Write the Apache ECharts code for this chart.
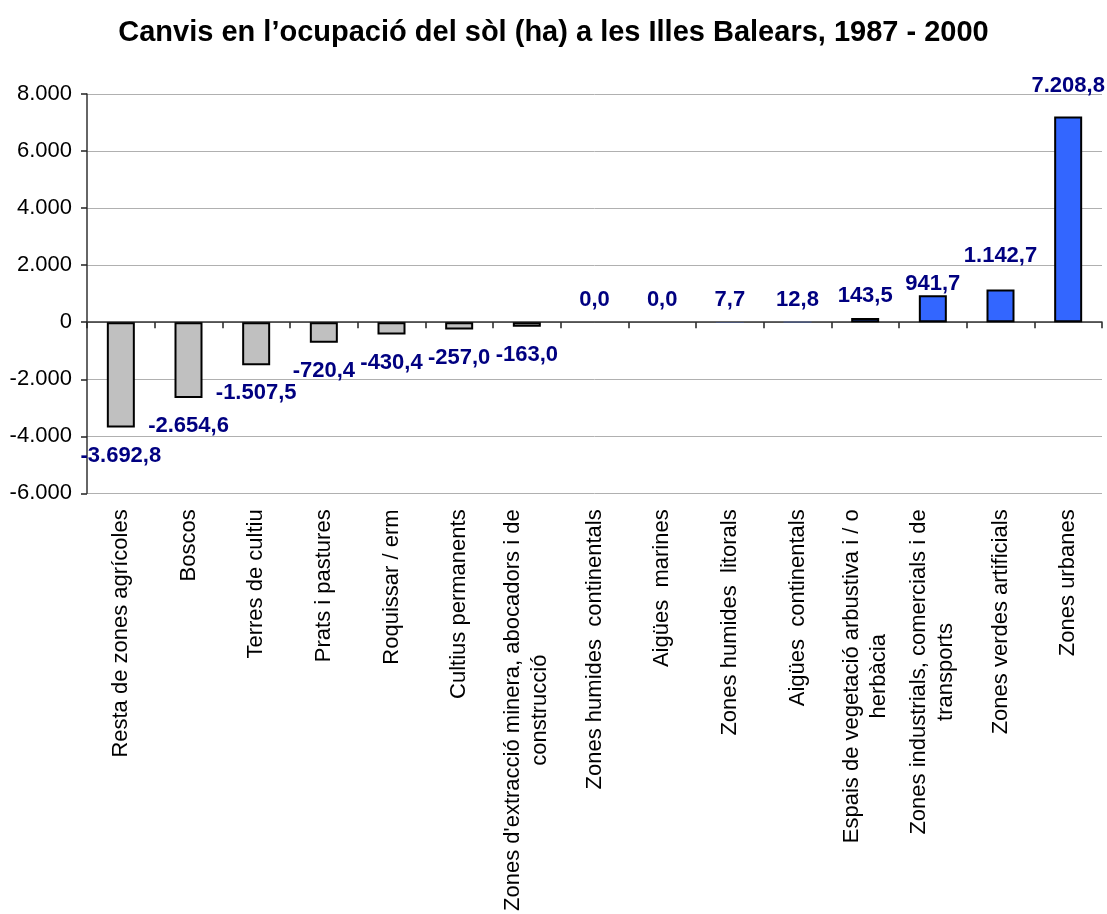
<!DOCTYPE html>
<html>
<head>
<meta charset="utf-8">
<script src="https://cdn.jsdelivr.net/npm/echarts@6/dist/echarts.min.js"></script>
<style>
  html, body { margin: 0; padding: 0; background: #fff; }
  #chart { width: 1107px; height: 914px; }
</style>
</head>
<body>
<div id="chart"></div>
<script>
// dades: canvis en l'ocupació del sòl (ha), 1987 - 2000
const categories = [
  'Resta de zones agrícoles',
  'Boscos',
  'Terres de cultiu',
  'Prats i pastures',
  'Roquissar / erm',
  'Cultius permanents',
  "Zones d'extracció minera, abocadors i de\nconstrucció",
  'Zones humides  continentals',
  'Aigües  marines',
  'Zones humides  litorals',
  'Aigües  continentals',
  'Espais de vegetació arbustiva i / o\nherbàcia',
  'Zones industrials, comercials i de\ntransports',
  'Zones verdes artificials',
  'Zones urbanes'
];
const values = [-3692.8, -2654.6, -1507.5, -720.4, -430.4, -257.0, -163.0,
  0.0, 0.0, 7.7, 12.8, 143.5, 941.7, 1142.7, 7208.8];
const yTicks = [-6000, -4000, -2000, 0, 2000, 4000, 6000, 8000];

const FONT = '"Liberation Sans", Arial, sans-serif';

// format català: punt de milers, coma decimal
function fmt(v, dec) {
  const s = Math.abs(v).toFixed(dec);
  const parts = s.split('.');
  const int = parts[0].replace(/\B(?=(\d{3})+(?!\d))/g, '.');
  return (v < 0 ? '-' : '') + int + (parts[1] ? ',' + parts[1] : '');
}

// alguns rètols moguts a mà a l'original
const labelGap = { 12: 0, 13: 23, 14: 20 };

const barData = values.map((v, i) => ({
  value: v,
  itemStyle: {
    color: v < 0 ? '#C0C0C0' : '#3366FF',
    // barres gairebé nul·les: sense vora visible
    borderWidth: Math.abs(v) < 20 ? 0 : 2
  },
  label: {
    position: v < 0 ? 'bottom' : 'top',
    distance: labelGap[i] != null ? labelGap[i] : (v < 0 ? 17 : 11)
  }
}));

const chart = echarts.init(document.getElementById('chart'));
chart.setOption({
  animation: false,
  title: {
    text: 'Canvis en l’ocupació del sòl (ha) a les Illes Balears, 1987 - 2000',
    left: 'center',
    top: 13,
    textStyle: { fontFamily: FONT, fontSize: 29, fontWeight: 'bold', color: '#000' }
  },
  grid: { left: 87, right: 5, top: 94, bottom: 416 },
  xAxis: [
    {
      type: 'category',
      data: categories,
      position: 'bottom',
      axisLine: { onZero: true, lineStyle: { color: '#333', width: 1.5 } },
      axisTick: { show: true, interval: 0, length: 6, lineStyle: { color: '#222', width: 1.5 } },
      axisLabel: { show: false, interval: 0 },
      splitLine: { show: false }
    },
    {
      type: 'category',
      data: categories,
      position: 'bottom',
      axisLine: { show: false, onZero: false },
      axisTick: { show: false },
      axisLabel: {
        show: true,
        interval: 0,
        rotate: 90,
        margin: 16,
        formatter: v => v.split('\n').map(s => '{c|' + s + '}').join('\n'),
        rich: {
          c: { align: 'center', fontFamily: FONT, fontSize: 22, color: '#000', lineHeight: 27 }
        }
      }
    }
  ],
  yAxis: {
    type: 'value',
    min: yTicks[0],
    max: yTicks[yTicks.length - 1],
    interval: 2000,
    axisLine: { show: true, lineStyle: { color: '#333', width: 1.5 } },
    axisTick: { show: true, length: 6, lineStyle: { color: '#222', width: 1.5 } },
    axisLabel: {
      margin: 15,
      fontFamily: FONT,
      fontSize: 22,
      color: '#000',
      formatter: v => fmt(v, 0)
    },
    splitLine: { show: true, lineStyle: { color: '#B0B0B0', width: 1 } }
  },
  series: [{
    type: 'bar',
    xAxisIndex: 0,
    data: barData,
    barWidth: 28,
    itemStyle: { borderColor: '#000', borderWidth: 2 },
    label: {
      show: true,
      fontFamily: FONT,
      fontSize: 22,
      fontWeight: 'bold',
      color: '#000080',
      formatter: p => fmt(p.value, 1)
    }
  }]
});
</script>
</body>
</html>
